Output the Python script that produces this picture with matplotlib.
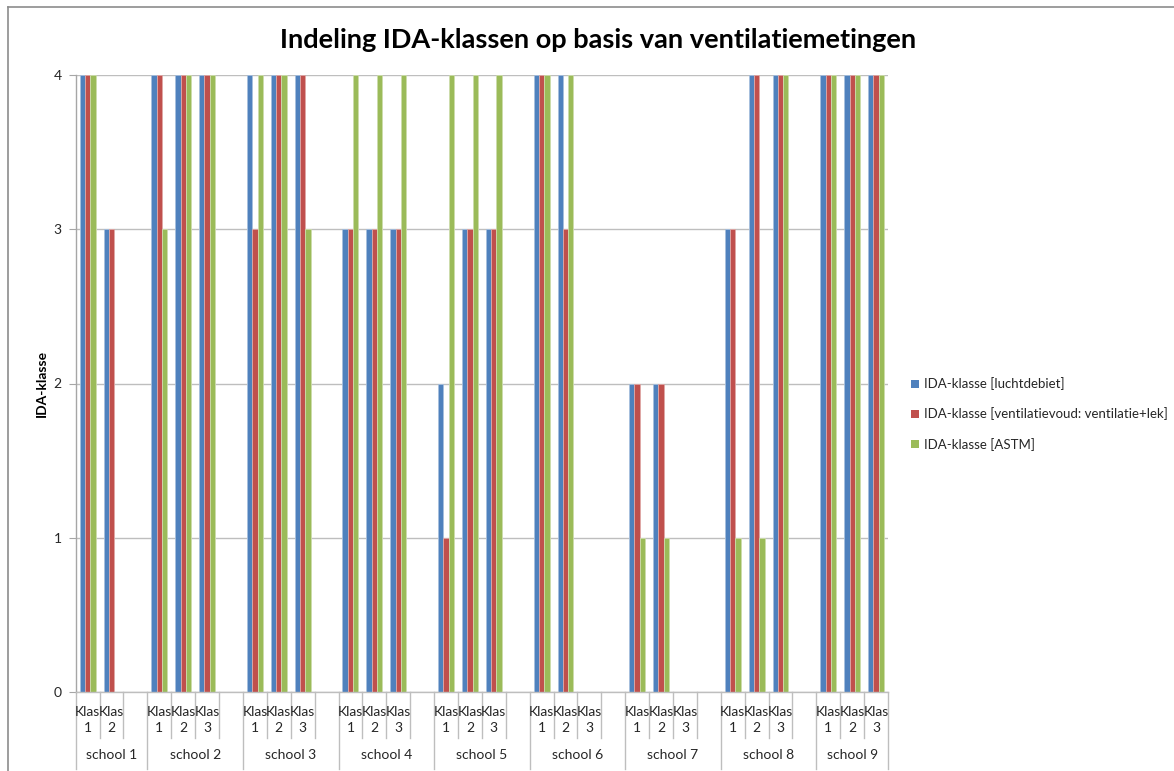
import numpy as np
import matplotlib
matplotlib.use("Agg")
import matplotlib.pyplot as plt
from matplotlib.lines import Line2D
from matplotlib.patches import Patch

plt.rcParams['font.family'] = ['Lato', 'DejaVu Sans']

# --- data -------------------------------------------------------------
schools = ["school 1", "school 2", "school 3", "school 4", "school 5",
           "school 6", "school 7", "school 8", "school 9"]
klassen = [["Klas 1", "Klas 2"]] + [["Klas 1", "Klas 2", "Klas 3"]] * 8

luchtdebiet = [[4, 3], [4, 4, 4], [4, 4, 4], [3, 3, 3], [2, 3, 3],
               [4, 4, None], [2, 2, None], [3, 4, 4], [4, 4, 4]]
ventilatievoud = [[4, 3], [4, 4, 4], [3, 4, 4], [3, 3, 3], [1, 3, 3],
                  [4, 3, None], [2, 2, None], [3, 4, 4], [4, 4, 4]]
astm = [[4, None], [3, 4, 4], [4, 4, 3], [4, 4, 4], [4, 4, 4],
        [4, 4, None], [1, 1, None], [1, 1, 4], [4, 4, 4]]

series_names = ["IDA-klasse [luchtdebiet]",
                "IDA-klasse [ventilatievoud: ventilatie+lek]",
                "IDA-klasse [ASTM]"]
series_data = [luchtdebiet, ventilatievoud, astm]
colors = ["#4F81BD", "#C0504D", "#9BBB59"]
edge_colors = ["#A7C0DE", "#DFA8A6", "#CDDDAC"]

# --- build category slots (each school followed by an empty slot) ------
slot_labels = []
slot_values = [[] for _ in series_data]
school_spans = []
pos = 0
for s_idx, school in enumerate(schools):
    start = pos
    for k_idx, klas in enumerate(klassen[s_idx]):
        slot_labels.append(klas)
        for j, data in enumerate(series_data):
            v = data[s_idx][k_idx]
            slot_values[j].append(np.nan if v is None else v)
        pos += 1
    end = pos
    if s_idx < len(schools) - 1:
        slot_labels.append("")
        for j in range(len(series_data)):
            slot_values[j].append(np.nan)
        pos += 1
        end = pos
    school_spans.append((start, end, school))

n_slots = len(slot_labels)
x = np.arange(n_slots)

# --- figure -------------------------------------------------------------
W, H = 1174, 771
fig = plt.figure(figsize=(W / 100, H / 100), dpi=100)
ax_left, ax_right, ax_top, ax_bottom = 75.7, 888.0, 75.0, 692.0
ax = fig.add_axes([ax_left / W, 1 - ax_bottom / H,
                   (ax_right - ax_left) / W, (ax_bottom - ax_top) / H])

bar_w = 0.222
for j, vals in enumerate(slot_values):
    ax.bar(x + (j - 1) * bar_w, vals, width=bar_w, color=colors[j],
           edgecolor=edge_colors[j], linewidth=0.6, zorder=3,
           label=series_names[j])

ax.set_xlim(-0.5, n_slots - 0.5)
ax.set_ylim(0, 4)
ax.set_yticks([0, 1, 2, 3, 4])
ax.yaxis.grid(True, color="#BEBEBE", linewidth=1.0, zorder=0)
ax.set_axisbelow(True)
for side in ["top", "right", "bottom"]:
    ax.spines[side].set_visible(False)
ax.spines["left"].set_color("#A6A6A6")
ax.spines["left"].set_linewidth(1.0)
ax.tick_params(axis="y", length=5, color="#A6A6A6", labelsize=10,
               labelcolor="#262626", pad=5)
ax.set_xticks([])

ax.set_ylabel("IDA-klasse", fontsize=10, fontweight="bold", color="#000000",
              labelpad=4)

# --- two-level category axis ---------------------------------------------
ax_h = ax_bottom - ax_top
trans = ax.get_xaxis_transform()
line_col = "#BEBEBE"
ax.plot([-0.5, n_slots - 0.5], [0, 0], transform=trans, color=line_col,
        lw=1.0, clip_on=False, zorder=4)

klas_tick = -46 / ax_h
school_tick = -77 / ax_h
boundaries = set()
for start, end, school in school_spans:
    boundaries.add(start - 0.5)
    boundaries.add(end - 0.5)
for b in sorted(boundaries):
    ax.plot([b, b], [0, school_tick], transform=trans, color=line_col,
            lw=1.0, clip_on=False)
for i in range(n_slots):
    b = i + 0.5
    if b not in boundaries:
        ax.plot([b, b], [0, klas_tick], transform=trans, color=line_col,
                lw=1.0, clip_on=False)

for i, lab in enumerate(slot_labels):
    if lab:
        ax.text(i, -14 / ax_h, lab.replace(" ", "\n"), transform=trans,
                ha="center", va="top", fontsize=10, color="#262626",
                linespacing=1.4)

for start, end, school in school_spans:
    ax.text((start + end - 1) / 2, -63 / ax_h, school, transform=trans,
            ha="center", va="center", fontsize=10, color="#262626")

# --- title, legend, frame -----------------------------------------------
fig.text(598 / W, 1 - 40 / H,
         "Indeling IDA-klassen op basis van ventilatiemetingen",
         ha="center", va="center", fontsize=19.5, fontweight="bold",
         color="#000000")

handles = [Patch(facecolor=c, edgecolor="none") for c in colors]
fig.legend(handles, series_names, loc="center left",
           bbox_to_anchor=(906 / W, 1 - 414 / H), frameon=False,
           fontsize=9.5, handlelength=0.6, handleheight=0.6,
           handletextpad=0.35, labelspacing=1.3, labelcolor="#262626",
           borderaxespad=0.0)

fig.add_artist(Line2D([8 / W, 8 / W], [1 - 7 / H, 0], color="#8C8C8C",
                      lw=1.2, transform=fig.transFigure))
fig.add_artist(Line2D([8 / W, 1], [1 - 7 / H, 1 - 7 / H], color="#8C8C8C",
                      lw=1.2, transform=fig.transFigure))

fig.savefig("out.png", dpi=100, facecolor="white")
